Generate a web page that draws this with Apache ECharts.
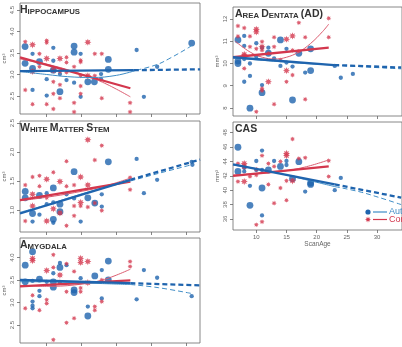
<!DOCTYPE html>
<html><head><meta charset="utf-8">
<script src="https://cdn.jsdelivr.net/npm/echarts@6/dist/echarts.min.js"></script>
<style>html,body{margin:0;padding:0;background:#fff}#c{width:402px;height:347px}</style>
</head><body><div id="c"></div><script>
// ---------- tick labels ----------
const xTicks = [10, 15, 20, 25, 30];
const hippoTicks = [2.5, 3.0, 3.5, 4.0, 4.5];
const wmTicks = [1.0, 1.5, 2.0, 2.5];
const amygTicks = [2.5, 3.0, 3.5, 4.0];
const adTicks = [8, 9, 10, 11, 12];
const casTicks = [36, 38, 40, 42, 44, 46, 48];
const groups = ['Autism', 'Control'];

// ---------- data: [ScanAge, volume, sizeClass] ----------
const hippoAut = [[6.9,3.65,2],[6.9,3.26,2],[7.97,3.48,1],[7.97,3.14,2],[7.97,2.64,1],[8.96,3.30,2],[10,2.89,1],[10,2.51,1],[10.95,3.62,1],[10.95,3.32,1],[10.95,3.10,2],[11.9,2.6,2],[11.9,3.01,1],[12.84,2.87,1],[13.93,3.66,2],[13.93,3.52,2],[13.93,2.81,1],[14.87,3.48,1],[14.87,2.48,1],[15.9,2.83,2],[16.84,2.83,2],[17.8,3.01,1],[17.8,2.89,1],[18.84,3.35,2],[18.84,3.12,2],[22.9,3.57,1],[23.94,2.48,1],[25.84,3.18,1],[30.8,3.73,2]];
const hippoCtl = [[6.92,3.76,1],[6.92,2.64,1],[7.97,3.69,2],[7.97,3.07,2],[7.97,2.31,1],[8.96,3.48,1],[8.96,3.18,1],[10,3.79,1],[10,3.74,1],[10,3.37,2],[10,2.31,1],[10.95,3.10,2],[10.95,2.83,1],[10.95,2.55,1],[10.95,2.2,1],[11.9,3.37,2],[11.9,3.07,1],[11.9,2.76,1],[11.9,2.45,1],[12.84,3.40,1],[12.84,3.28,1],[12.84,3.05,1],[13.93,3.18,1],[13.93,2.34,1],[13.93,2.13,1],[14.87,3.33,1],[14.87,3.29,1],[14.87,2.97,1],[14.87,2.73,1],[14.87,2.55,1],[15.9,3.75,2],[15.9,2.97,2],[16.9,3.48,1],[16.9,2.97,1],[17.9,3.48,1],[17.9,2.45,1],[21.96,2.34,1],[21.96,2.13,1]];
const hippoAutFit = [[6.17,3.08],[22.5,3.10]];
const hippoAutFitExt = [[22.5,3.10],[32,3.12]];
const hippoAutCurve = [[6.17,3.07],[10,3.0],[13,2.95],[16.5,2.93],[20,2.98],[22.9,3.10]];
const hippoAutCurveExt = [[22.9,3.10],[25.8,3.23],[27.7,3.38],[30.3,3.62],[31,3.70]];
const hippoCtlFit = [[6.17,3.40],[22,2.68]];
const hippoCtlCurve = [[6.17,3.36],[10,3.24],[14,3.06],[18,2.82],[22,2.48]];

const wmAut = [[6.92,1.32,2],[6.92,1.21,2],[7.97,0.94,2],[7.97,0.80,1],[8.96,1.25,2],[8.96,0.92,1],[10,1.29,1],[10,1.10,1],[10.95,1.38,2],[10.95,1.13,1],[10.95,0.84,2],[10.95,0.78,1],[11.9,1.10,2],[11.9,0.97,2],[12.84,1.27,1],[13.93,1.66,2],[13.93,1.20,1],[14.87,0.80,1],[15.9,1.21,2],[16.9,1.12,2],[17.9,1.27,1],[17.9,1.06,1],[18.84,1.83,2],[22.9,1.88,1],[23.94,1.29,1],[25.84,1.52,1],[30.8,1.83,1],[30.9,1.78,1]];
const wmCtl = [[6.92,1.43,1],[6.92,0.81,1],[7.97,1.57,1],[7.97,1.27,2],[7.97,1.07,2],[8.96,1.59,1],[8.96,1.41,1],[10,1.53,2],[10,1.21,1],[10,0.81,2],[10.95,1.65,1],[10.95,1.02,2],[11.9,1.49,2],[11.9,0.95,2],[12.84,1.84,1],[12.84,1.41,1],[12.84,0.73,1],[13.93,1.43,1],[13.93,1.07,1],[13.93,0.90,1],[14.87,1.57,2],[14.87,1.13,2],[14.87,1.07,1],[15.9,2.21,2],[15.9,1.43,2],[15.9,1.05,1],[16.9,1.86,1],[16.9,1.12,1],[17.9,2.11,1],[17.9,0.99,1],[21.96,1.56,1],[21.96,1.35,1]];
const wmAutFit = [[6.17,0.94],[22,1.52]];
const wmAutFitExt = [[22,1.52],[32,1.87]];
const wmAutCurve = [[6.17,0.96],[10,1.09],[14,1.24],[18,1.38],[22,1.50]];
const wmAutCurveExt = [[22,1.50],[26,1.63],[30.8,1.78]];
const wmCtlFit = [[6.17,1.17],[22,1.49]];
const wmCtlCurve = [[6.17,1.16],[10,1.22],[14,1.30],[18,1.40],[22,1.55]];

const amygAut = [[6.92,3.83,2],[6.92,3.46,2],[7.97,4.13,2],[7.97,3.48,1],[7.97,3.02,1],[7.97,2.93,1],[7.97,2.87,1],[8.96,3.52,2],[8.96,3.26,1],[8.96,3.14,1],[10,3.46,1],[10.95,3.65,1],[10.95,3.46,2],[10.95,3.34,2],[11.9,3.88,1],[11.9,3.78,2],[11.9,3.44,1],[12.84,3.83,1],[13.93,3.28,2],[13.93,3.22,2],[14.87,3.54,1],[15.9,2.91,1],[15.9,2.70,2],[16.9,3.59,2],[17.9,3.72,1],[17.9,3.09,1],[18.84,3.92,2],[18.84,3.50,2],[22.9,3.07,1],[23.94,3.72,1],[25.84,3.55,1],[30.8,3.14,1]];
const amygCtl = [[6.92,2.87,1],[7.97,3.98,2],[7.97,3.93,2],[7.97,3.16,1],[8.96,2.83,1],[10,3.71,2],[10,3.06,1],[10,2.98,1],[10.95,4.06,1],[10.95,3.78,1],[10.95,2.17,1],[11.9,3.61,2],[11.9,3.46,1],[12.84,3.86,1],[12.84,3.24,1],[12.84,2.55,1],[13.93,3.69,1],[13.93,2.65,1],[14.87,3.98,2],[14.87,3.89,2],[14.87,3.32,1],[14.87,3.24,1],[15.9,3.91,2],[15.9,3.44,2],[16.9,2.91,1],[16.9,2.83,1],[17.9,3.50,1],[17.9,3.02,1],[21.96,3.91,1],[21.96,3.80,1]];
const amygAutFit = [[6.17,3.50],[22,3.43]];
const amygAutFitExt = [[22,3.43],[32,3.38]];
const amygAutCurve = [[6.17,3.46],[10,3.46],[14,3.44],[18,3.42],[22,3.40]];
const amygAutCurveExt = [[22,3.40],[26,3.33],[30.8,3.20]];
const amygCtlFit = [[6.17,3.36],[22,3.49]];
const amygCtlCurve = [[6.17,3.38],[10,3.36],[14,3.39],[18,3.50],[22,3.74]];

const adAut = [[6.96,11.06,2],[6.96,10.11,2],[6.96,10.0,2],[8,11.24,1],[8,10.79,1],[8,10.2,1],[8,9.18,1],[8.95,10.0,1],[8.95,9.44,1],[8.95,7.99,2],[10,10.91,1],[10,10.31,1],[10.95,10.71,1],[10.95,9.03,1],[10.95,8.69,2],[12,10.46,2],[12,10.71,1],[12.95,10.23,1],[14,11.06,2],[14,9.89,1],[15,10.66,1],[15,10.04,1],[16,9.86,1],[16,8.36,2],[17.05,10.46,2],[18.1,9.59,1],[19,10.66,2],[19,9.68,2],[23,9.89,1],[24,9.36,1],[26,9.53,1]];
const adCtl = [[6.96,11.69,1],[6.96,11.22,1],[8,11.6,1],[8,10.41,2],[8,10.33,2],[8,9.78,1],[8.95,11.22,1],[8.95,10.75,1],[10,11.54,2],[10,11.42,2],[10,10.66,1],[10.95,10.98,1],[10.95,10.75,2],[10.95,10.6,1],[10.95,8.88,1],[10.95,8.78,1],[10,7.83,1],[12,9.18,2],[12,10.46,1],[12.95,11.18,1],[12.95,10.75,1],[12.95,8.17,1],[14,10.16,1],[15,11.09,2],[15,9.68,2],[15,9.18,1],[16,11.24,2],[16,10.59,1],[16,9.48,1],[17.05,11.83,1],[17.05,10.55,1],[18.1,11.18,1],[18.1,8.39,1],[22,12.03,1],[22,11.18,1]];
const adAutFit = [[6.14,10.28],[22.9,9.93]];
const adAutFitExt = [[22.9,9.93],[34,9.82]];
const adAutCurve = [[6.14,10.25],[12,10.12],[18,10.0],[22.9,9.93]];
const adAutCurveExt = [[22.9,9.93],[27,9.86],[34,9.76]];
const adCtlFit = [[6.14,10.28],[22,10.71]];
const adCtlCurve = [[6.5,11.0],[9,10.51],[11,10.28],[13,10.2],[15,10.28],[17,10.51],[19,10.9],[21,11.44],[22,11.77]];

const casAut = [[6.96,45.96,2],[6.96,42.6,2],[8,43.1,1],[8,42.6,1],[8.95,40.6,1],[8.95,37.9,2],[10,44.05,1],[10,42.8,1],[10.95,45.5,1],[10.95,42.8,1],[10.95,40.3,2],[10.95,36.5,1],[12,42.8,2],[12.95,44.05,1],[14,43.3,2],[15,44.05,1],[15,43.5,1],[16,41.6,2],[17.05,43.96,2],[18.1,39.8,1],[19,41.0,2],[19,40.8,2],[23,40.0,1],[24,41.7,1]];
const casCtl = [[6.96,43.7,1],[6.96,41.2,1],[8,43.7,2],[8,43.3,2],[8,41.2,2],[8.95,41.9,1],[10,42.9,1],[10,42.1,1],[10,35.2,1],[10.95,44.8,1],[10.95,35.6,1],[12,43.7,1],[12,40.8,1],[12.95,43.3,1],[12.95,38.2,1],[14,44.0,1],[14,40.3,1],[15,45.1,2],[15,44.8,2],[15,41.3,1],[15,38.6,1],[16,47.1,1],[16,41.3,2],[17.05,44.4,1],[18.1,44.5,1],[22,44.1,1],[22,41.9,1]];
const casAutFit = [[6.14,43.6],[23,40.8]];
const casAutFitExt = [[23,40.8],[34,38.97]];
const casAutCurve = [[6.14,43.5],[10,43.0],[14,42.3],[18,41.5],[23,40.5]];
const casAutCurveExt = [[23,40.5],[27,39.8],[30.3,39.0],[34,38.0]];
const casCtlFit = [[6.14,42.0],[22,43.3]];
const casCtlCurve = [[6.14,42.1],[10,42.3],[14,42.6],[18,43.2],[22,44.2]];

// ---------- layout / style ----------
const BLUE = '#1f64ae', RED = '#d3374d', BLUE_THIN = '#3f8dc6', RED_THIN = '#dc5c70';
const FONT = 'Liberation Sans, Arial, sans-serif';
const STAR = 'path://M20 10L14.8 12L17.07 17.07L12 14.8L10 20L8 14.8L2.93 17.07L5.2 12L0 10L5.2 8L2.93 2.93L8 5.2L10 0L12 5.2L17.07 2.93L14.8 8Z';
const STAR_PTS = [[3.2,0],[1.29,0.54],[2.26,2.26],[0.54,1.29],[0,3.2],[-0.54,1.29],[-2.26,2.26],[-1.29,0.54],[-3.2,0],[-1.29,-0.54],[-2.26,-2.26],[-0.54,-1.29],[0,-3.2],[0.54,-1.29],[2.26,-2.26],[1.29,-0.54]];

const panels = [
  {grid:{left:18,top:3,width:182,height:111}, x:[6.17,31.99], y:[2.081,4.663], ticks:hippoTicks, dec:1, unit:'cm³',
   title:'{B|H}{s|IPPOCAMPUS}', aut:hippoAut, ctl:hippoCtl, af:hippoAutFit, afx:hippoAutFitExt, ac:hippoAutCurve, acx:hippoAutCurveExt, cf:hippoCtlFit, cc:hippoCtlCurve, xl:false},
  {grid:{left:18,top:121,width:182,height:111}, x:[6.17,31.99], y:[0.621,2.534], ticks:wmTicks, dec:1, unit:'cm³',
   title:'{B|W}{s|HITE }{B|M}{s|ATTER }{B|S}{s|TEM}', aut:wmAut, ctl:wmCtl, af:wmAutFit, afx:wmAutFitExt, ac:wmAutCurve, acx:wmAutCurveExt, cf:wmCtlFit, cc:wmCtlCurve, xl:false},
  {grid:{left:18,top:238,width:182,height:105}, x:[6.17,31.99], y:[2.1,4.433], ticks:amygTicks, dec:1, unit:'cm³',
   title:'{B|A}{s|MYGDALA}', aut:amygAut, ctl:amygCtl, af:amygAutFit, afx:amygAutFitExt, ac:amygAutCurve, acx:amygAutCurveExt, cf:amygCtlFit, cc:amygCtlCurve, xl:false},
  {grid:{left:233,top:7,width:196,height:109}, x:[6.14,34.14], y:[7.64,12.539], ticks:adTicks, dec:0, unit:'mm³',
   title:'{B|A}{s|REA }{B|D}{s|ENTATA }{B|(AD)}', aut:adAut, ctl:adCtl, af:adAutFit, afx:adAutFitExt, ac:adAutCurve, acx:adAutCurveExt, cf:adCtlFit, cc:adCtlCurve, xl:false},
  {grid:{left:233,top:122,width:196,height:108}, x:[6.14,34.14], y:[34.47,49.47], ticks:casTicks, dec:0, unit:'mm³',
   title:'{B|CAS}', aut:casAut, ctl:casCtl, af:casAutFit, afx:casAutFitExt, ac:casAutCurve, acx:casAutCurveExt, cf:casCtlFit, cc:casCtlCurve, xl:true}
];

const grid = [], xAxis = [], yAxis = [], series = [], title = [];
panels.forEach((p, i) => {
  grid.push(Object.assign({show:true, borderColor:'#6a6a6a', borderWidth:0.8, containLabel:false}, p.grid));
  xAxis.push({type:'value', gridIndex:i, min:p.x[0], max:p.x[1], splitLine:{show:false},
    axisLine:{show:false}, axisTick:{show:true, inside:false, length:3, lineStyle:{color:'#666', width:0.8}, customValues:xTicks},
    axisLabel:{show:p.xl, customValues:xTicks, fontSize:6, color:'#666', margin:4, fontFamily:FONT},
    name:p.xl ? 'ScanAge' : '', nameLocation:'middle', nameGap:11, nameTextStyle:{fontSize:6.5, color:'#666', fontFamily:FONT}});
  yAxis.push({type:'value', gridIndex:i, min:p.y[0], max:p.y[1], splitLine:{show:false},
    axisLine:{show:false}, axisTick:{show:true, inside:false, length:3, lineStyle:{color:'#666', width:0.8}, customValues:p.ticks},
    axisLabel:{customValues:p.ticks, rotate:90, fontSize:6, color:'#666', margin:5, fontFamily:FONT,
      formatter: v => Number(v).toFixed(p.dec)},
    name:p.unit, nameLocation:'middle', nameGap:13, nameRotate:90, nameTextStyle:{fontSize:6, color:'#666', fontFamily:FONT}});
  title.push({text:p.title, left:p.grid.left + 2, top:p.grid.top + 2, padding:0,
    textStyle:{fontFamily:FONT, color:'#333', rich:{B:{fontSize:10.5, fontFamily:FONT, color:'#333', verticalAlign:'bottom', lineHeight:11}, s:{fontSize:7.8, fontFamily:FONT, color:'#333', verticalAlign:'bottom', lineHeight:11}}}});
  const base = {xAxisIndex:i, yAxisIndex:i, silent:true, animation:false};
  series.push(Object.assign({type:'scatter', name:groups[0], data:p.aut, symbol:'circle',
    symbolSize: d => d[2] === 2 ? 6.8 : 4.3, itemStyle:{color:BLUE}, z:2}, base));
  series.push(Object.assign({type:'scatter', name:groups[1], data:p.ctl, symbol:STAR,
    symbolSize: d => d[2] === 2 ? 7.2 : 5.2, itemStyle:{color:RED}, z:2}, base));
  const line = (data, color, width, dash, smooth) => Object.assign({type:'line', data:data, showSymbol:false, symbol:'none',
    smooth:smooth ? 0.4 : false, clip:true, lineStyle:{color:color, width:width, type:dash ? [5, 3] : 'solid'}, z:3}, base);
  series.push(line(p.cc, RED_THIN, 1, false, true));
  series.push(line(p.cf, RED, 2.3, false, false));
  series.push(line(p.ac, BLUE_THIN, 1, false, true));
  series.push(line(p.acx, BLUE_THIN, 1, true, true));
  series.push(line(p.af, BLUE, 2.3, false, false));
  series.push(line(p.afx, BLUE, 2.3, true, false));
});

const chart = echarts.init(document.getElementById('c'), null, {renderer:'canvas'});
chart.setOption({
  backgroundColor:'#fff', animation:false, textStyle:{fontFamily:FONT},
  title:title, grid:grid, xAxis:xAxis, yAxis:yAxis, series:series,
  graphic:[
    {type:'circle', shape:{cx:368, cy:212, r:2.6}, style:{fill:BLUE}, z:10},
    {type:'line', shape:{x1:373, y1:212, x2:387, y2:212}, style:{stroke:BLUE_THIN, lineWidth:1.2}, z:10},
    {type:'text', x:389, y:212, style:{text:groups[0], fill:BLUE_THIN, fontSize:9, fontFamily:FONT, verticalAlign:'middle'}, z:10},
    {type:'polygon', x:368, y:219.5, shape:{points:STAR_PTS}, style:{fill:RED}, z:10},
    {type:'line', shape:{x1:373, y1:219.5, x2:387, y2:219.5}, style:{stroke:RED, lineWidth:1.2}, z:10},
    {type:'text', x:389, y:219.5, style:{text:groups[1], fill:RED, fontSize:9, fontFamily:FONT, verticalAlign:'middle'}, z:10}
  ]
});
</script></body></html>
